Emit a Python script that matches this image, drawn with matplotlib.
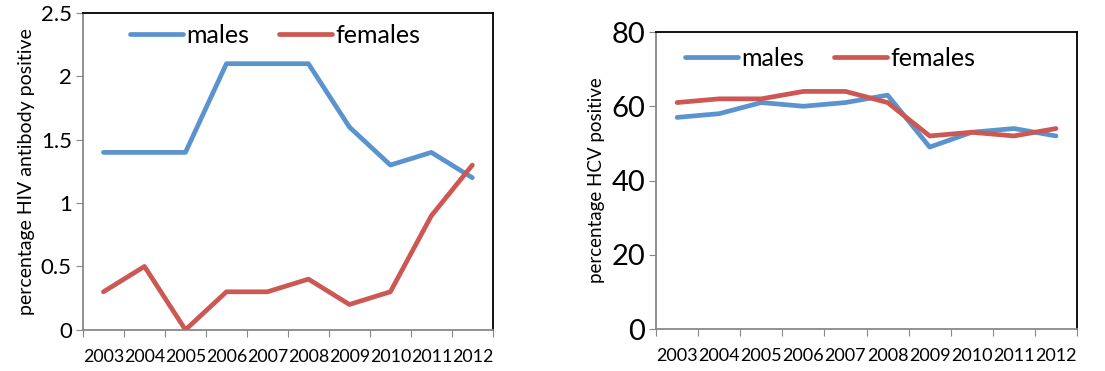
import matplotlib
matplotlib.use("Agg")
import matplotlib.pyplot as plt
import numpy as np

years = ['2003', '2004', '2005', '2006', '2007', '2008', '2009', '2010', '2011', '2012']

hiv_males = [1.4, 1.4, 1.4, 2.1, 2.1, 2.1, 1.6, 1.3, 1.4, 1.2]
hiv_females = [0.3, 0.5, 0.0, 0.3, 0.3, 0.4, 0.2, 0.3, 0.9, 1.3]

hcv_males = [57, 58, 61, 60, 61, 63, 49, 53, 54, 52]
hcv_females = [61, 62, 62, 64, 64, 61, 52, 53, 52, 54]

BLUE = '#5B93CF'
RED = '#CC5753'

plt.rcParams['font.family'] = ['Lato', 'DejaVu Sans']

fig = plt.figure(figsize=(11.05, 3.71), dpi=100)
ax1 = fig.add_axes([0.0751, 0.111, 0.3709, 0.854])
ax2 = fig.add_axes([0.5937, 0.1132, 0.381, 0.8005])


def style_axes(ax, ylim, yticks, ytick_size, xtick_size, ylabel, ylabel_size):
    x = np.arange(len(years))
    ax.set_xlim(-0.5, len(years) - 0.5)
    ax.set_ylim(*ylim)
    ax.set_yticks(yticks)
    ax.set_yticklabels([f'{t:g}' for t in yticks], fontsize=ytick_size)
    # ticks on category boundaries, labels in the middle
    ax.set_xticks(np.arange(len(years) + 1) - 0.5)
    ax.set_xticklabels([])
    ax.set_xticks(x, minor=True)
    ax.set_xticklabels(years, minor=True, fontsize=xtick_size)
    ax.tick_params(axis='x', which='major', length=5, color='#888888', direction='out')
    ax.tick_params(axis='x', which='minor', length=0, pad=14)
    ax.tick_params(axis='y', length=5, color='#888888', direction='out', pad=3)
    for s in ['left', 'bottom']:
        ax.spines[s].set_color('#888888')
        ax.spines[s].set_linewidth(1.3)
    for s in ['top', 'right']:
        ax.spines[s].set_color('black')
        ax.spines[s].set_linewidth(1.3)
    ax.set_ylabel(ylabel, fontsize=ylabel_size, labelpad=4)


x = np.arange(len(years))

ax1.plot(x, hiv_males, color=BLUE, lw=3.4, label='males', solid_capstyle='round')
ax1.plot(x, hiv_females, color=RED, lw=3.4, label='females', solid_capstyle='round')
style_axes(ax1, (0, 2.5), [0, 0.5, 1, 1.5, 2, 2.5], 16, 12.8,
           'percentage HIV antibody positive', 14)
ax1.legend(loc='center left', bbox_to_anchor=(0.115, 0.93), ncol=2, frameon=False,
           fontsize=18, handlelength=2.1, handletextpad=0.15, columnspacing=1.2,
           borderpad=0, borderaxespad=0)

ax2.plot(x, hcv_males, color=BLUE, lw=3.4, label='males', solid_capstyle='round')
ax2.plot(x, hcv_females, color=RED, lw=3.4, label='females', solid_capstyle='round')
style_axes(ax2, (0, 80), [0, 20, 40, 60, 80], 21, 13,
           'percentage HCV positive', 13.5)
ax2.legend(loc='center left', bbox_to_anchor=(0.069, 0.91), ncol=2, frameon=False,
           fontsize=18, handlelength=2.1, handletextpad=0.15, columnspacing=1.2,
           borderpad=0, borderaxespad=0)

fig.savefig('out.png', dpi=100)
